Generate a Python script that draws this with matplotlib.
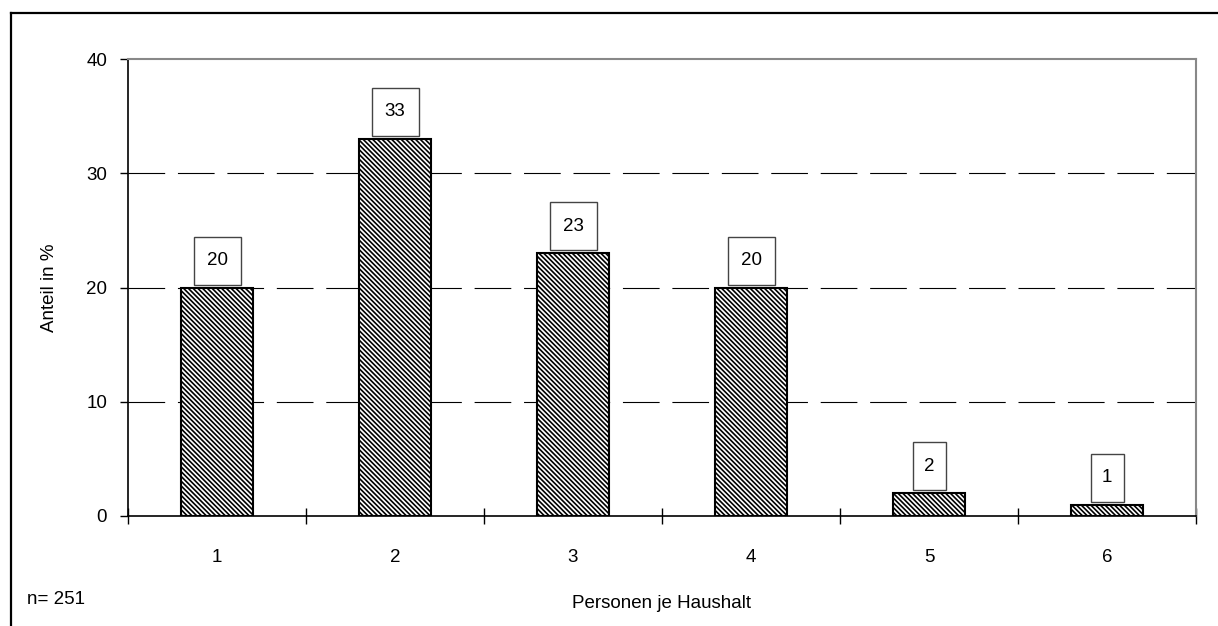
import matplotlib
matplotlib.use("Agg")
import matplotlib.pyplot as plt
from matplotlib.patches import Rectangle
from matplotlib.lines import Line2D
import numpy as np

# data
categories = ["1", "2", "3", "4", "5", "6"]
values = [20, 33, 23, 20, 2, 1]
yticks = [0, 10, 20, 30, 40]

plt.rcParams['font.family'] = ['Liberation Sans', 'DejaVu Sans']
plt.rcParams['font.size'] = 13.5
plt.rcParams['hatch.linewidth'] = 1.2

fig = plt.figure(figsize=(12.18, 6.26), dpi=100)
ax = fig.add_axes([128/1218, 110/626, 1068/1218, 457/626])

x = np.arange(len(categories))
ax.bar(x, values, width=0.405, color='white', edgecolor='black',
       linewidth=1.5, hatch='\\' * 7, zorder=3)

# value labels in boxes above bars
px_x = 1068 / len(categories)   # pixels per category
px_y = 457 / 40.0               # pixels per y unit
for xi, v in zip(x, values):
    lab = str(v)
    w = (19 + 14 * len(lab)) / px_x
    h = 48 / px_y
    y0 = v + 3 / px_y
    ax.add_patch(Rectangle((xi - w / 2, y0), w, h, facecolor='white',
                           edgecolor='#444444', linewidth=1.0, zorder=4))
    ax.text(xi, y0 + h / 2, lab, ha='center', va='center', zorder=5)

ax.set_xlim(-0.5, len(categories) - 0.5)
ax.set_ylim(0, 40)
ax.set_yticks(yticks)

ax.set_xticks(x)
ax.set_xticklabels(categories)
ax.set_xticks(np.arange(len(categories) + 1) - 0.5, minor=True)
ax.tick_params(axis='x', which='major', length=0, pad=24)
ax.tick_params(axis='x', which='minor', direction='inout', length=11, width=1)
ax.tick_params(axis='y', direction='out', length=6, width=1, pad=9)

for yv in yticks[1:-1]:
    ax.axhline(yv, color='black', linewidth=0.8, linestyle=(0, (33, 11.5)), zorder=1)

ax.spines['left'].set_color('black')
ax.spines['bottom'].set_color('black')
ax.spines['left'].set_linewidth(1.2)
ax.spines['bottom'].set_linewidth(1.2)
ax.spines['top'].set_color('#888888')
ax.spines['right'].set_color('#888888')
ax.spines['top'].set_linewidth(1.5)
ax.spines['right'].set_linewidth(1.5)

fig.text(50/1218, 1 - 288/626, "Anteil in %", rotation=90, ha='center', va='center')
fig.text(662/1218, 1 - 604/626, "Personen je Haushalt", ha='center', va='center')
fig.text(27/1218, 1 - 600/626, "n= 251", ha='left', va='center')

# outer frame (top and left edges only)
fig.add_artist(Line2D([11/1218, 1.0], [1 - 13/626, 1 - 13/626], color='black', linewidth=1.6))
fig.add_artist(Line2D([11/1218, 11/1218], [1 - 13/626, 0.0], color='black', linewidth=1.6))

fig.savefig("out.png", dpi=100)
